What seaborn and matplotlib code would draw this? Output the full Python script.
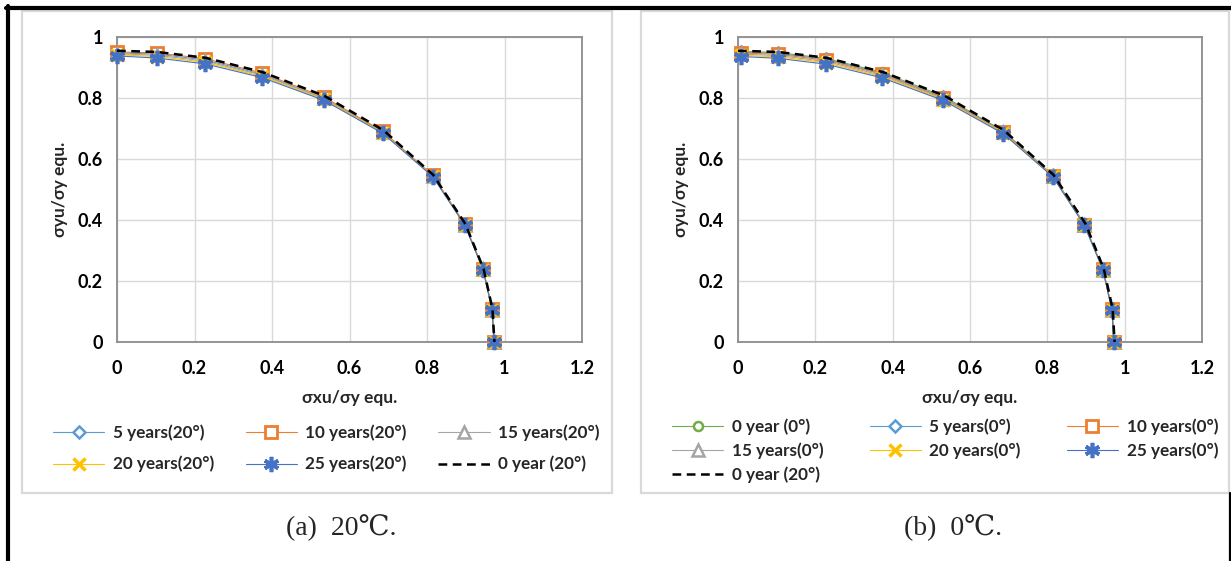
import matplotlib
matplotlib.use("Agg")
import matplotlib.pyplot as plt
import seaborn as sns
from matplotlib.patches import Rectangle
from matplotlib.lines import Line2D

# ---- data ----
x_20 = [0, 0.103, 0.227, 0.374, 0.533, 0.686, 0.815, 0.898, 0.945, 0.968, 0.973]
y_5y_20 = [0.948, 0.944, 0.925, 0.878, 0.800, 0.689, 0.545, 0.385, 0.238, 0.107, 0]
y_10y_20 = [0.951, 0.948, 0.929, 0.882, 0.804, 0.691, 0.546, 0.386, 0.239, 0.107, 0]
y_15y_20 = [0.945, 0.940, 0.921, 0.875, 0.799, 0.688, 0.544, 0.384, 0.238, 0.106, 0]
y_20y_20 = [0.942, 0.936, 0.917, 0.871, 0.796, 0.686, 0.543, 0.383, 0.237, 0.106, 0]
y_25y_20 = [0.938, 0.931, 0.912, 0.867, 0.793, 0.684, 0.542, 0.382, 0.237, 0.106, 0]

x_0 = [0.008, 0.104, 0.227, 0.373, 0.531, 0.686, 0.814, 0.896, 0.944, 0.967, 0.972]
y_0y_0 = [0.953, 0.949, 0.930, 0.884, 0.806, 0.692, 0.547, 0.386, 0.239, 0.107, 0]
y_5y_0 = [0.950, 0.946, 0.927, 0.880, 0.802, 0.690, 0.546, 0.385, 0.238, 0.107, 0]
y_10y_0 = [0.948, 0.943, 0.924, 0.878, 0.800, 0.689, 0.545, 0.385, 0.238, 0.107, 0]
y_15y_0 = [0.944, 0.939, 0.920, 0.874, 0.798, 0.687, 0.544, 0.384, 0.237, 0.106, 0]
y_20y_0 = [0.940, 0.935, 0.916, 0.870, 0.795, 0.685, 0.543, 0.383, 0.237, 0.106, 0]
y_25y_0 = [0.936, 0.930, 0.911, 0.866, 0.792, 0.683, 0.542, 0.382, 0.236, 0.106, 0]

# reference curve, 0 year at 20 degrees (dashed, in both panels)
x_ref = [0, 0.103, 0.228, 0.375, 0.535, 0.688, 0.816, 0.899, 0.946, 0.969, 0.974]
y_ref = [0.955, 0.951, 0.932, 0.885, 0.807, 0.694, 0.548, 0.387, 0.240, 0.108, 0]

x_ticks = [0, 0.2, 0.4, 0.6, 0.8, 1.0, 1.2]
y_ticks = [0, 0.2, 0.4, 0.6, 0.8, 1.0]

GREEN, BLUE, ORANGE, GRAY, GOLD, DBLUE = "#70AD47", "#5B9BD5", "#ED7D31", "#A5A5A5", "#FFC000", "#4472C4"
STYLE = {
    "0y": (GREEN, "o", 6.5, 1.8),
    "5y": (BLUE, "D", 6.5, 1.8),
    "10y": (ORANGE, "s", 8, 2.0),
    "15y": (GRAY, "^", 8, 1.8),
    "20y": (GOLD, "x", 9, 2.5),
    "25y": (DBLUE, (6, 2, 0), 11, 2.6),
}

sns.set_theme(style="whitegrid")
plt.rcParams["font.family"] = ["Lato", "DejaVu Sans"]
plt.rcParams["font.weight"] = "bold"

W, H = 1231, 561
fig = plt.figure(figsize=(W / 100, H / 100), dpi=100)


def fx(px):
    return px / W


def fy(py):
    return 1 - py / H


def draw_panel(ax, series, leg_order, leg_x, leg_y, leg_spacing, col_spacing):
    for key, xs, ys, label in series:
        c, m, ms, mew = STYLE[key]
        sns.lineplot(x=xs, y=ys, ax=ax, sort=False, color=c, linewidth=0.8,
                     marker=m, markersize=ms, markeredgewidth=mew,
                     markerfacecolor="white", markeredgecolor=c,
                     label=label, clip_on=False, zorder=3)
    sns.lineplot(x=x_ref, y=y_ref, ax=ax, sort=False, color="black", linewidth=1.8,
                 linestyle=(0, (3.5, 2.2)), label="0 year (20°)", clip_on=False, zorder=4)

    ax.set_xlim(0, 1.2)
    ax.set_ylim(0, 1)
    ax.set_xticks(x_ticks)
    ax.set_yticks(y_ticks)
    ax.set_xticklabels([f"{v:g}" for v in x_ticks])
    ax.set_yticklabels([f"{v:g}" for v in y_ticks])
    ax.tick_params(axis="both", length=0, labelsize=13, colors="black")
    ax.tick_params(axis="y", pad=10)
    ax.tick_params(axis="x", pad=13)
    ax.grid(True, color="#D9D9D9", linewidth=1.0)
    for s in ax.spines.values():
        s.set_color("#8C8C8C")
        s.set_linewidth(1.3)
    ax.set_facecolor("white")

    ax.set_xlabel("σxu/σy equ.", fontsize=12.5, fontweight="bold")
    ax.set_ylabel("σyu/σy equ.", fontsize=12.5, fontweight="bold")
    ax.xaxis.set_label_coords(0.5, -0.184)
    ax.xaxis.label.set_va("center")
    ax.yaxis.set_label_coords(-0.123, 0.5)
    ax.yaxis.label.set_va("center")

    handles, labels = ax.get_legend_handles_labels()
    h = [handles[i] for i in leg_order]
    l = [labels[i] for i in leg_order]
    ax.legend(h, l, loc="upper left", bbox_to_anchor=(leg_x, leg_y),
              bbox_transform=fig.transFigure, ncol=3, frameon=False,
              borderpad=0, borderaxespad=0, handlelength=3.0, handletextpad=0.5,
              columnspacing=col_spacing, labelspacing=leg_spacing,
              prop={"size": 12.3, "weight": "bold"})


ax1 = fig.add_axes([fx(117), fy(342), fx(582 - 117), (342 - 37) / H])
ax2 = fig.add_axes([fx(738), fy(342), fx(1202 - 738), (342 - 37) / H])

series_20 = [
    ("5y", x_20, y_5y_20, "5 years(20°)"),
    ("10y", x_20, y_10y_20, "10 years(20°)"),
    ("15y", x_20, y_15y_20, "15 years(20°)"),
    ("20y", x_20, y_20y_20, "20 years(20°)"),
    ("25y", x_20, y_25y_20, "25 years(20°)"),
]
series_0 = [
    ("0y", x_0, y_0y_0, "0 year (0°)"),
    ("5y", x_0, y_5y_0, "5 years(0°)"),
    ("10y", x_0, y_10y_0, "10 years(0°)"),
    ("15y", x_0, y_15y_0, "15 years(0°)"),
    ("20y", x_0, y_20y_0, "20 years(0°)"),
    ("25y", x_0, y_25y_0, "25 years(0°)"),
]

# legend fills column-wise, so reorder to read row-wise like the original
draw_panel(ax1, series_20, [0, 3, 1, 4, 2, 5], fx(53), fy(424), 0.9, 1.85)
draw_panel(ax2, series_0, [0, 3, 6, 1, 4, 2, 5], fx(672), fy(418), 0.44, 2.7)

# chart-area boxes and the outer black frame
for x0, x1 in [(22, 612), (641, 1229)]:
    fig.add_artist(Rectangle((fx(x0), fy(493)), fx(x1 - x0), (493 - 11) / H,
                             transform=fig.transFigure, fill=False,
                             edgecolor="#D9D9D9", linewidth=1.6))
fig.add_artist(Line2D([fx(6), 1], [fy(8), fy(8)], transform=fig.transFigure,
                      color="black", linewidth=3))
fig.add_artist(Line2D([fx(8), fx(8)], [fy(6), 0], transform=fig.transFigure,
                      color="black", linewidth=3))
fig.add_artist(Line2D([fx(1230), fx(1230)], [fy(493), 0], transform=fig.transFigure,
                      color="black", linewidth=1.6))

cap_font = ["Liberation Serif", "DejaVu Serif", "DejaVu Sans"]
fig.text(fx(341), fy(528), "(a)  20℃.", ha="center", va="center", fontsize=20,
         family=cap_font, fontweight="normal")
fig.text(fx(953), fy(528), "(b)  0℃.", ha="center", va="center", fontsize=20,
         family=cap_font, fontweight="normal")

fig.savefig("out.png", dpi=100, facecolor="white")
